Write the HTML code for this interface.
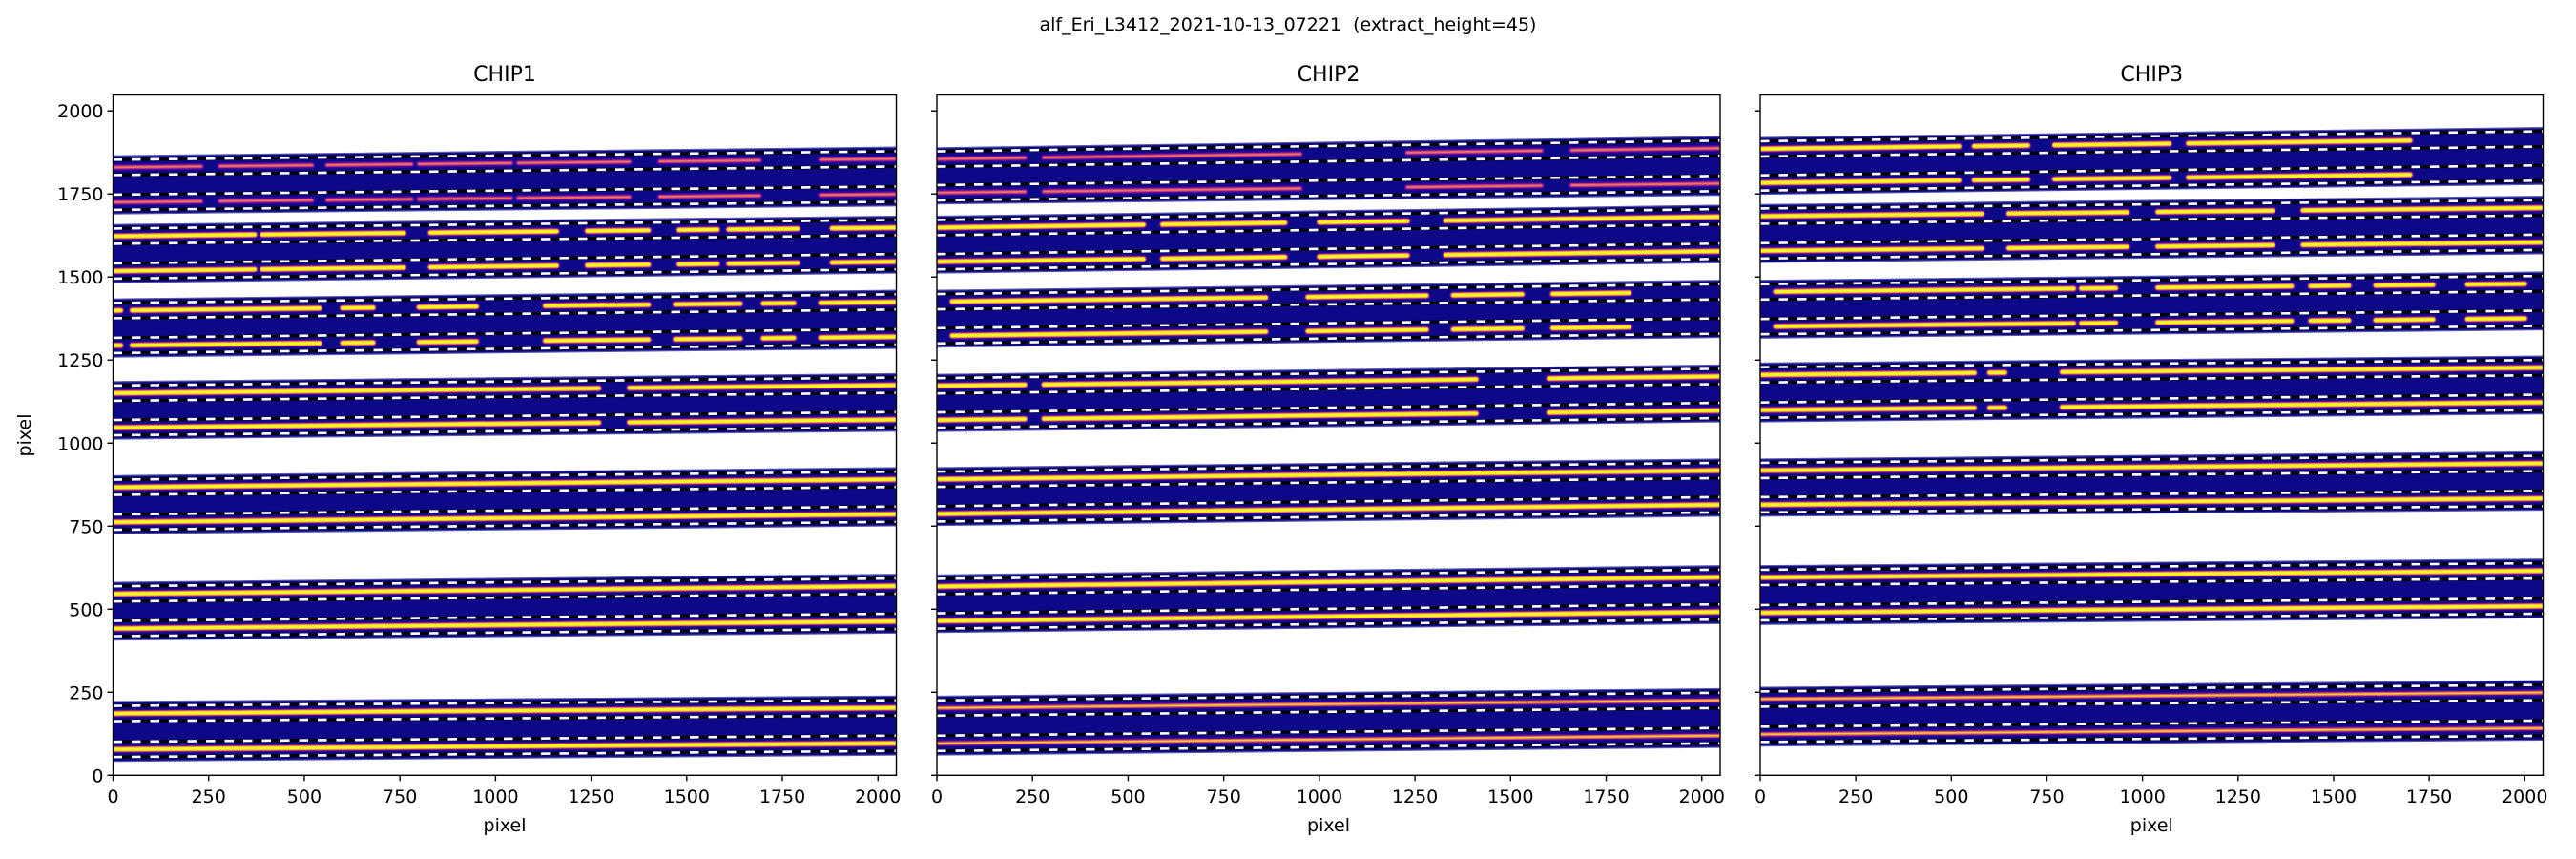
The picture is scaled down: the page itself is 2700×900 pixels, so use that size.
<!DOCTYPE html>
<html><head><meta charset="utf-8">
<style>
html,body{margin:0;padding:0;background:#fff;}
svg{display:block;font-family:"DejaVu Sans","Liberation Sans",sans-serif;}
</style></head>
<body>
<svg id="s" width="2700" height="900" viewBox="0 0 2700 900" xmlns="http://www.w3.org/2000/svg">
<text x="1350" y="32" font-size="19" text-anchor="middle" style="white-space:pre" xml:space="preserve">alf_Eri_L3412_2021-10-13_07221  (extract_height=45)</text>
<text transform="translate(32,456) rotate(-90)" font-size="19" text-anchor="middle">pixel</text>
</svg>
<script>
(function(){
var NS="http://www.w3.org/2000/svg",svg=document.getElementById('s');
var Y0=812.3,Y1=99.5,K=(Y0-Y1)/2048;
var axes=[
 {x0:118.5,x1:939.5,t:"CHIP1",labels:true,
  b:[[1865,1690,1891,1714],[1658,1483,1683,1512],[1434,1259,1460,1285],[1185,1012,1209,1036],[902,727,926,751],[581,407,605,428],[222,42,238.5,61]],
  seg:[[[0,230],[280,520],[560,780],[800,1040],[1060,1350],[1430,1690],[1850,2048]],
       [[0,370],[390,760],[830,1160],[1240,1400],[1480,1580],[1610,1790],[1880,2048]],
       [[0,20],[50,540],[600,680],[800,950],[1130,1400],[1470,1640],[1700,1780],[1850,2048]],
       [[0,1270],[1350,2048]],[[0,2048]],[[0,2048]],[[0,2048]]],
  dim:[1,0,0,0,0,0,0]},
 {x0:982,x1:1803,t:"CHIP2",labels:false,
  b:[[1889,1720,1923,1746],[1683,1512,1716,1543],[1460,1289,1490,1318],[1207,1035,1235,1064],[926,752,952,780],[603,430,631,457],[238,61,261,84]],
  seg:[[[0,230],[280,950],[1230,1580],[1660,2048]],
       [[0,540],[590,910],[1000,1230],[1330,2048]],
       [[40,860],[970,1280],[1350,1530],[1610,1810]],
       [[0,230],[280,1410],[1600,2048]],[[0,2048]],[[0,2048]],[[0,2048]]],
  dim:[1,0,0,0,0,0,2]},
 {x0:1845,x1:2665.5,t:"CHIP3",labels:false,
  b:[[1920,1749,1950,1779],[1718,1544,1743,1570],[1490,1316,1515,1341],[1241,1064,1262,1088],[952,780,974,798],[631,454,651,474],[265,88,285,106]],
  seg:[[[0,520],[560,700],[770,1070],[1120,1700]],
       [[0,580],[650,960],[1040,1340],[1420,2048]],
       [[40,820],[840,930],[1040,1390],[1440,1540],[1610,1760],[1850,2000]],
       [[0,560],[600,640],[790,2048]],[[0,2048]],[[0,2048]],[[0,2048]]],
  dim:[0,0,0,0,0,0,2]}
];
function el(n,a,p){var e=document.createElementNS(NS,n);for(var k in a)e.setAttribute(k,a[k]);(p||svg).appendChild(e);return e;}
axes.forEach(function(ax,i){
 var W=ax.x1-ax.x0;
 function X(d){return ax.x0+d/2048*W;}
 function Y(d){return Y0-d*K;}
 var cid="c"+i;
 var cp=el("clipPath",{id:cid});el("rect",{x:ax.x0,y:Y1,width:W,height:Y0-Y1},cp);
 var g=el("g",{"clip-path":"url(#"+cid+")"});
 ax.b.forEach(function(b,j){
  var lt=b[0],lb=b[1],rt=b[2],rb=b[3];
  el("polygon",{points:X(0)+","+Y(lt)+" "+X(2048)+","+Y(rt)+" "+X(2048)+","+Y(rb)+" "+X(0)+","+Y(lb),fill:"#0d0887",stroke:"#5a5aa8","stroke-width":1.2},g);
  var hl=lt-lb,hr=rt-rb;
  var tr=[[lt-0.2*hl,rt-0.2*hr],[lb+0.2*hl,rb+0.2*hr]];
  var dim=ax.dim[j];
  tr.forEach(function(t){
   function ty(x){return t[0]+(t[1]-t[0])*x/2048;}
   ax.seg[j].forEach(function(s){
    var a=s[0],c=s[1];
    var pts={x1:X(a),y1:Y(ty(a)),x2:X(c),y2:Y(ty(c)),"stroke-linecap":"round"};
    function ln(col,w,op){var o=Object.assign({},pts);o.stroke=col;o["stroke-width"]=w;if(op)o.opacity=op;el("line",o,g);}
    if(dim==1){ln("#6a00a8",7,0.7);ln("#b83289",4);ln("#e8755a",1.8);}
    else if(dim==2){ln("#6a00a8",7,0.7);ln("#d8576b",4);ln("#fdca26",1.6);}
    else{ln("#7e03a8",8,0.6);ln("#cc4778",6);ln("#fca636",4.5);ln("#f0f921",3);}
   });
   [23,-23].forEach(function(o){
    var p={x1:X(0),y1:Y(t[0]+o),x2:X(2048),y2:Y(t[1]+o)};
    var a=Object.assign({},p);a.stroke="#000";a["stroke-width"]=3.2;el("line",a,g);
    var w=Object.assign({},p);w.stroke="#fff";w["stroke-width"]=2.6;w["stroke-dasharray"]="9.5 10";el("line",w,g);
   });
  });
 });
 el("rect",{x:ax.x0,y:Y1,width:W,height:Y0-Y1,fill:"none",stroke:"#000","stroke-width":1.4});
 el("text",{x:(ax.x0+ax.x1)/2,y:85,"font-size":22,"text-anchor":"middle"}).textContent=ax.t;
 for(var v=0;v<=2000;v+=250){
  var xx=X(v);
  el("line",{x1:xx,y1:Y0,x2:xx,y2:Y0+6,stroke:"#000","stroke-width":1.4});
  el("text",{x:xx,y:841,"font-size":19,"text-anchor":"middle"}).textContent=v;
  var yy=Y(v);
  el("line",{x1:ax.x0-6,y1:yy,x2:ax.x0,y2:yy,stroke:"#000","stroke-width":1.4});
  if(ax.labels){el("text",{x:ax.x0-10,y:yy+7,"font-size":19,"text-anchor":"end"}).textContent=v;}
 }
 el("text",{x:(ax.x0+ax.x1)/2,y:871,"font-size":19,"text-anchor":"middle"}).textContent="pixel";
});
})();
</script>
</body></html>
